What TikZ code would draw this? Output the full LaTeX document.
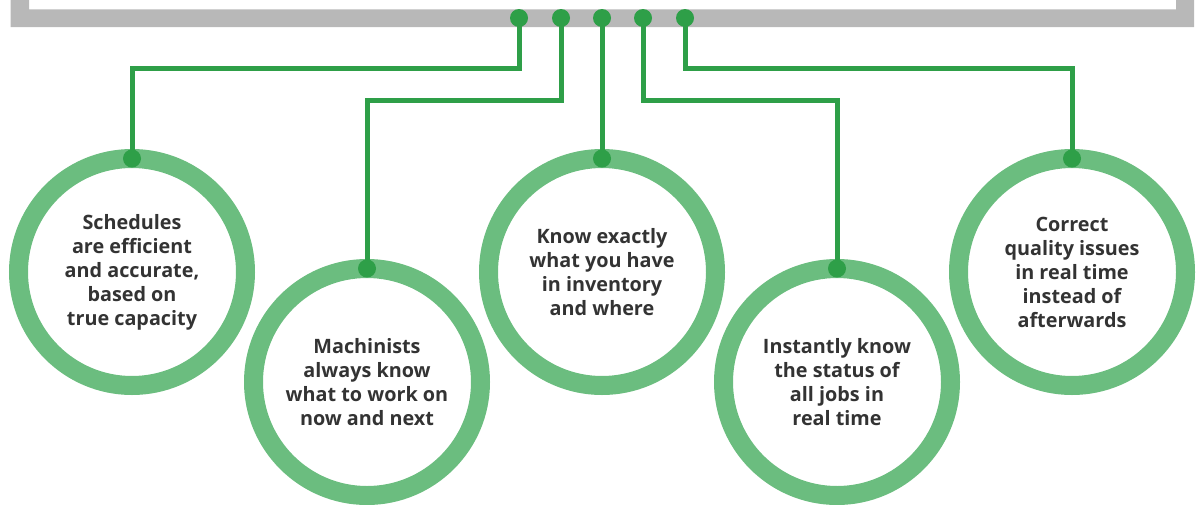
\documentclass[tikz,border=0pt]{standalone}
\usepackage{fontspec}
\setmainfont{Open Sans}
\definecolor{framegray}{HTML}{B8B8B8}
\definecolor{ringgreen}{HTML}{6BBD7F}
\definecolor{dotgreen}{HTML}{2E9F48}
\definecolor{txtgray}{HTML}{333333}
\tikzset{
  ring/.style={circle, draw=ringgreen, line width=19pt, minimum size=227pt, inner sep=0pt, outer sep=0pt,
    align=center, font=\fontsize{19.8}{24}\selectfont\bfseries, text=txtgray},
  conn/.style={draw=dotgreen, line width=5pt},
  dotnode/.style={circle, fill=dotgreen, minimum size=18pt, inner sep=0pt, outer sep=0pt},
}
\begin{document}
\begin{tikzpicture}[x=1pt,y=-1pt]
\useasboundingbox (0,0) rectangle (1199,504);
\fill[framegray] (10.7,0) -- (10.7,27) -- (1194,27) -- (1194,0) -- (1176,0) -- (1176,9.3) -- (29,9.3) -- (29,0) -- cycle;
% circles
\node[ring] (c1) at (132,272) {Schedules\\are efficient\\and accurate,\\based on\\true capacity};
\node[ring] (c2) at (367,382) {Machinists\\always know\\what to work on\\now and next};
\node[ring] (c3) at (602,272) {Know exactly\\what you have\\in inventory\\and where};
\node[ring] (c4) at (837,382) {Instantly know\\the status of\\all jobs in\\real time};
\node[ring] (c5) at (1072,272) {Correct\\quality issues\\in real time\\instead of\\afterwards};
% dots on bar
\coordinate (d1) at (519,18);
\coordinate (d2) at (561,18);
\coordinate (d3) at (602,18);
\coordinate (d4) at (643,18);
\coordinate (d5) at (685,18);
\coordinate (k1) at (519,68);
\coordinate (k2) at (561,100);
\coordinate (k4) at (643,100);
\coordinate (k5) at (685,68);
\draw[conn] (d1) -- (k1) -| (c1.north);
\draw[conn] (d2) -- (k2) -| (c2.north);
\draw[conn] (d3) -- (c3.north);
\draw[conn] (d4) -- (k4) -| (c4.north);
\draw[conn] (d5) -- (k5) -| (c5.north);
\foreach \i in {1,...,5} {
  \node[dotnode] (b\i) at (d\i) {};
}
\node[dotnode] (t1) at (c1.north) {};
\node[dotnode] (t2) at (c2.north) {};
\node[dotnode] (t3) at (c3.north) {};
\node[dotnode] (t4) at (c4.north) {};
\node[dotnode] (t5) at (c5.north) {};
\end{tikzpicture}
\end{document}
